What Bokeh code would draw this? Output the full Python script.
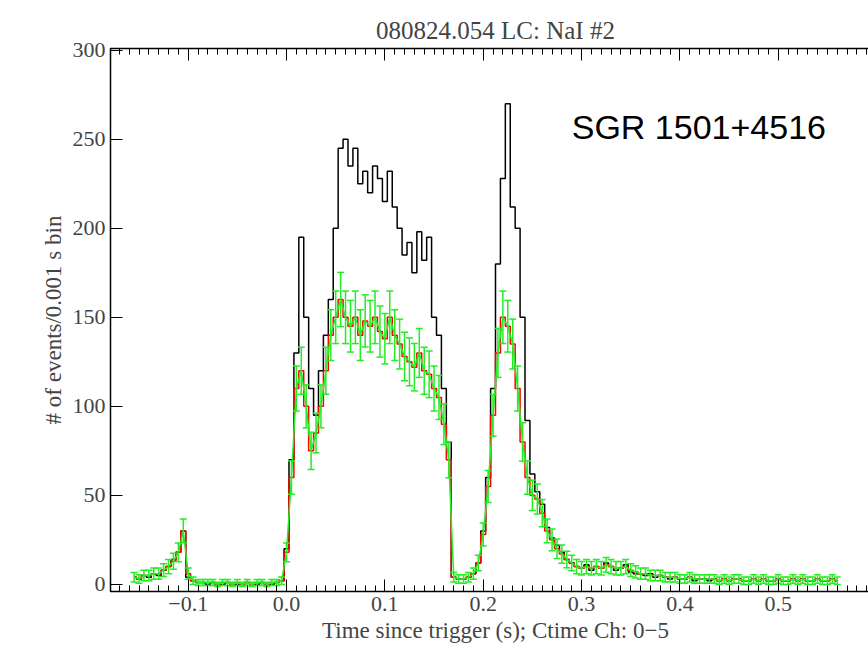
import numpy as np
from bokeh.plotting import figure
from bokeh.models import LinearAxis, Range1d, Label, FixedTicker
from bokeh.embed import file_html
from bokeh.resources import INLINE

bin_start = -0.155
bin_width = 0.005
black_counts = [4,3,5,4,6,5,8,10,14,18,30,4,
 2,1,1,0,1,0,0,1,0,0,0,1,0,0,1,0,0,1,2,
 20,70,130,195,150,110,95,120,140,160,200,245,250,235,245,225,232,220,235,228,215,232,212,200,185,192,175,198,182,195,150,140,110,80,
 4,3,3,4,6,12,
 30,60,110,180,228,270,212,200,150,92,62,52,45,
 32,26,22,18,14,12,10,9,11,8,10,9,12,10,8,9,11,7,6,6,5,6,4,5,4,3,4,3,3,4,2,3,3,2,3,2,3,2,3,3,2,2,3,2,3,2,2,3,2,2,3,2,3,2,2,3,2,2,3,2]
green_counts = [4,3,5,5,6,6,8,10,13,18,30,6,
 2,1,1,1,1,0,1,1,0,1,0,1,0,1,1,0,1,1,2,
 18,60,110,120,100,75,85,100,120,140,150,160,150,145,150,140,148,145,150,142,138,150,140,135,128,125,122,130,120,118,110,105,90,70,
 4,3,3,4,6,12,
 28,55,95,130,150,145,135,110,80,60,50,48,40,
 30,25,20,17,14,12,10,9,10,9,10,9,11,10,9,9,10,8,7,6,6,5,5,5,4,4,4,3,3,4,3,3,3,3,3,2,3,2,3,3,2,2,3,2,3,2,2,3,2,2,3,2,3,2,2,3,2,2,3,2]
title_text = "080824.054 LC: NaI #2"
xlabel = "Time since trigger (s); Ctime Ch: 0\u22125"
ylabel = "# of events/0.001 s bin"
annot = "SGR 1501+4516"
ticks_x = [-0.1, 0.0, 0.1, 0.2, 0.3, 0.4, 0.5]
xtick_labels = ["\u22120.1", "0.0", "0.1", "0.2", "0.3", "0.4", "0.5"]
ticks_y = [0, 50, 100, 150, 200, 250, 300]

t = bin_start + bin_width * np.arange(len(black_counts))
yb = np.array(black_counts, float)
yg = np.array(green_counts, float)
err = 1.2 * np.sqrt(yg + 1)

p = figure(width=880, height=654, output_backend="svg", toolbar_location=None,
           x_range=Range1d(-0.179, 0.604), y_range=Range1d(-4, 301),
           min_border_left=110, min_border_top=48, min_border_bottom=63, min_border_right=0)
p.grid.visible = False
p.outline_line_color = "black"
p.outline_line_width = 1.5
p.title.text = title_text
p.title.text_font = "Liberation Serif"
p.title.text_font_size = "25px"
p.title.text_font_style = "normal"
p.title.align = "center"

minor_x = list(np.round(np.arange(-0.17, 0.61, 0.01), 3))
for ax in [p.xaxis[0], p.yaxis[0]]:
    ax.major_label_text_font = "Liberation Serif"
    ax.major_label_text_font_size = "22px"
    ax.axis_label_text_font = "Liberation Serif"
    ax.axis_label_text_font_size = "23px"
    ax.axis_label_text_font_style = "normal"
    ax.major_tick_in = 12
    ax.major_tick_out = 0
    ax.minor_tick_in = 6
    ax.minor_tick_out = 0
    ax.axis_line_color = None
    ax.axis_label_standoff = 4
p.xaxis[0].ticker = FixedTicker(ticks=ticks_x, minor_ticks=minor_x)
p.yaxis[0].ticker = FixedTicker(ticks=ticks_y)
p.xaxis[0].major_label_overrides = dict(zip(ticks_x, xtick_labels))
p.xaxis[0].axis_label = xlabel
p.yaxis[0].axis_label = ylabel
p.yaxis[0].minor_tick_in = 0

top = LinearAxis(ticker=FixedTicker(ticks=ticks_x, minor_ticks=minor_x),
                 major_label_text_font_size="0px",
                 major_tick_in=12, major_tick_out=0,
                 minor_tick_in=6, minor_tick_out=0, axis_line_color=None)
right = LinearAxis(ticker=FixedTicker(ticks=ticks_y), major_label_text_font_size="0px",
                   major_tick_in=12, major_tick_out=0, minor_tick_in=0, minor_tick_out=0, axis_line_color=None)
p.add_layout(top, "above")
p.add_layout(right, "right")

p.step(t, yb, mode="center", line_color="black", line_width=1.5)
p.step(t, yg, mode="center", line_color="red", line_width=1.5)
p.segment(t, yg - err, t, yg + err, line_color="#22ee22", line_width=1.5)
p.scatter(t, yg + err, marker="dash", size=7, line_color="#22ee22", line_width=1.5)
p.scatter(t, yg - err, marker="dash", size=7, line_color="#22ee22", line_width=1.5)
p.line(t, yg, line_color="#22ee22", line_width=1.5)

p.add_layout(Label(x=0.29, y=246, text=annot, text_font="Liberation Sans",
                   text_font_size="34px", text_color="black"))

open("out.html", "w").write(file_html(p, INLINE))
